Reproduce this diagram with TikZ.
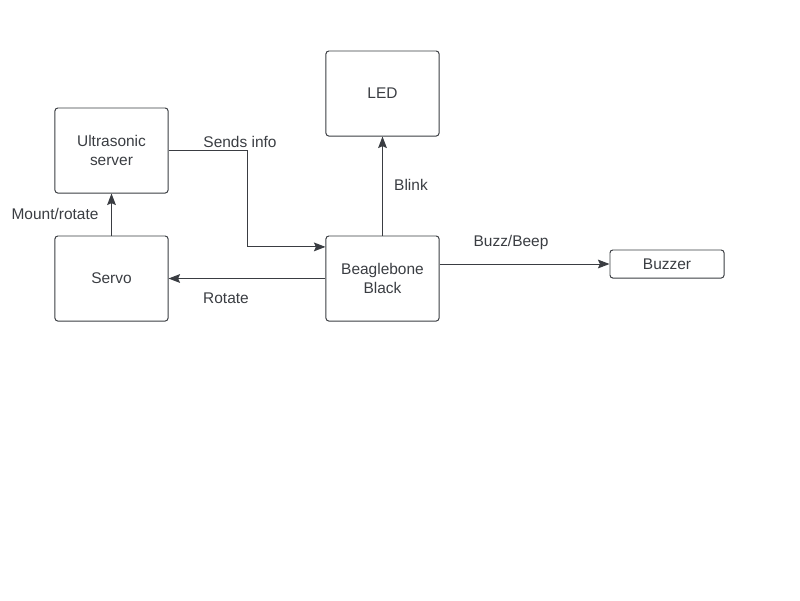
\documentclass[tikz,border=0pt]{standalone}
\usepackage{fontspec}
\setmainfont{Liberation Sans}
\usetikzlibrary{arrows.meta}
\definecolor{ink}{HTML}{3A3D42}
\begin{document}
\begin{tikzpicture}[x=0.025cm, y=-0.025cm]
		\tikzset{nd/.style={draw=ink, rounded corners=2pt, line width=0.7pt, minimum width=2.825cm, minimum height=2.125cm, align=center, text=ink, font=\fontsize{11}{13}\selectfont}};
		\tikzset{arr/.style={draw=ink, line width=0.7pt, -{Stealth[length=2.9mm, width=2.2mm, inset=0.5mm]}}};
		\tikzset{lbl/.style={text=ink, font=\fontsize{11}{13}\selectfont}};

		\useasboundingbox (0,0) rectangle (800,600);

		\node[nd] (us) at (111.5, 150.5) {Ultrasonic\\server};
		\node[nd] (sv) at (111.5, 278.5) {Servo};
		\node[nd] (led) at (382.5, 93.5) {LED};
		\node[nd] (bb) at (382.5, 278.5) {Beaglebone\\Black};
		\node[nd, minimum height=0.7cm, minimum width=2.85cm] (bz) at (667, 264) {Buzzer};

		\node[lbl] (l1) at (55, 214) {Mount/rotate};
		\node[lbl] (l2) at (240, 142) {Sends info};
		\node[lbl] (l3) at (226, 298) {Rotate};
		\node[lbl] (l4) at (411, 185) {Blink};
		\node[lbl] (l5) at (511, 242) {Buzz/Beep};

		\draw[arr] (sv) to (us);
		\draw[arr] (us.east) -- ++(79,0) |- ([yshift=0.79cm]bb.west);
		\draw[arr] (bb) to (sv);
		\draw[arr] (bb) to (led);
		\draw[arr] (bb.east |- bz.west) to (bz.west);
	\end{tikzpicture}
\end{document}
